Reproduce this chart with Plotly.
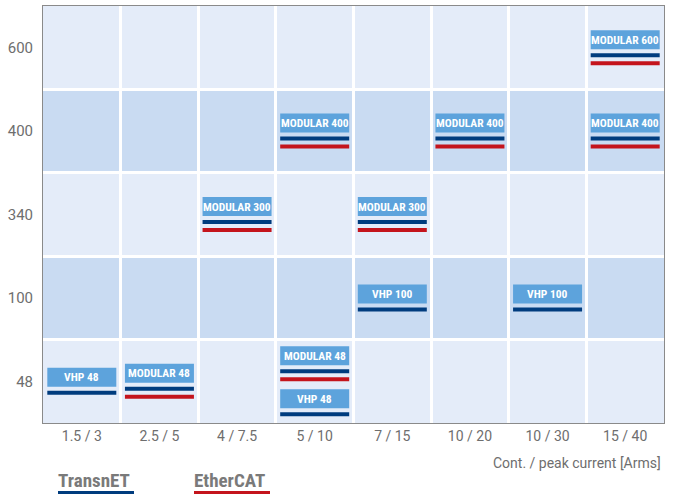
import plotly.graph_objects as go

# ---------------- data ----------------
currents = ["1.5 / 3", "2.5 / 5", "4 / 7.5", "5 / 10", "7 / 15", "10 / 20", "10 / 30", "15 / 40"]
voltages = ["48", "100", "340", "400", "600"]

product_names = ["VHP 48", "MODULAR 48", "MODULAR 48", "VHP 48", "MODULAR 300",
                 "VHP 100", "MODULAR 300", "MODULAR 400", "MODULAR 400", "VHP 100",
                 "MODULAR 400", "MODULAR 600"]
product_current = ["1.5 / 3", "2.5 / 5", "5 / 10", "5 / 10", "4 / 7.5",
                   "7 / 15", "7 / 15", "5 / 10", "10 / 20", "10 / 30",
                   "15 / 40", "15 / 40"]
product_voltage = ["48", "48", "48", "48", "340",
                   "100", "340", "400", "400", "100",
                   "400", "600"]
product_transnet = [True] * 12
product_ethercat = [False, True, True, False, True,
                    False, True, True, True, False,
                    True, True]

x_title = "Cont. / peak current [Arms]"
legend_names = ["TransnET", "EtherCAT"]

# ---------------- style ----------------
W, H = 676, 494
ML, MR, MT, MB = 43, 12, 6, 71
BG_LIGHT = "#E4ECF9"
BG_DARK = "#C9DBF2"
BOX = "#5DA3DC"
BLUE = "#003C7E"
RED = "#C4141C"
GRAY = "#6E6E6E"
COND = "Roboto Condensed, Roboto, sans-serif"

pw = W - ML - MR
ph = H - MT - MB
xu = len(currents) / pw    # data units per px (x)
yu = len(voltages) / ph    # data units per px (y)

BOX_W, BOX_H, GAP, LINE, ITEM_GAP = 69, 19, 4, 4, 8

fig = go.Figure()
shapes = []
annotations = []

# row bands
for i, v in enumerate(voltages):
    shapes.append(dict(type="rect", xref="paper", yref="y", x0=0, x1=1,
                       y0=i - 0.5, y1=i + 0.5, layer="below", line_width=0,
                       fillcolor=BG_DARK if i % 2 == 1 else BG_LIGHT))

# group products per cell (top to bottom in list order)
cells = {}
for k in range(len(product_names)):
    key = (product_current[k], product_voltage[k])
    cells.setdefault(key, []).append(k)

def item_height(k):
    h = BOX_H
    if product_transnet[k]:
        h += GAP + LINE
    if product_ethercat[k]:
        h += GAP + LINE
    return h

for (cur, vol), items in cells.items():
    cx = currents.index(cur)
    cy = voltages.index(vol)
    total = sum(item_height(k) for k in items) + ITEM_GAP * (len(items) - 1)
    top = cy + total / 2 * yu   # in data units
    for k in items:
        x0 = cx - BOX_W / 2 * xu
        x1 = cx + BOX_W / 2 * xu
        y_top = top
        y_bot = y_top - BOX_H * yu
        shapes.append(dict(type="rect", xref="x", yref="y", x0=x0, x1=x1,
                           y0=y_bot, y1=y_top, fillcolor=BOX, line_width=0, layer="above"))
        annotations.append(dict(xref="x", yref="y", x=cx, y=(y_top + y_bot) / 2,
                                text=product_names[k], showarrow=False,
                                xanchor="center", yanchor="middle",
                                font=dict(family=COND, size=11.5,
                                          color="white", weight="bold")))
        cur_y = y_bot
        if product_transnet[k]:
            cur_y -= GAP * yu
            shapes.append(dict(type="rect", xref="x", yref="y", x0=x0, x1=x1,
                               y0=cur_y - LINE * yu, y1=cur_y, fillcolor=BLUE,
                               line_width=0, layer="above"))
            cur_y -= LINE * yu
        if product_ethercat[k]:
            cur_y -= GAP * yu
            shapes.append(dict(type="rect", xref="x", yref="y", x0=x0, x1=x1,
                               y0=cur_y - LINE * yu, y1=cur_y, fillcolor=RED,
                               line_width=0, layer="above"))
            cur_y -= LINE * yu
        top = cur_y - ITEM_GAP * yu

# x-axis title
annotations.append(dict(xref="paper", yref="paper", x=1, y=0, xanchor="right", yanchor="middle",
                        yshift=-(463 - (H - MB)), xshift=-1, text=x_title, showarrow=False,
                        font=dict(family="Roboto", size=14, color=GRAY)))

# legend (text with underline)
leg_colors = [BLUE, RED]
leg_x = [58, 194]
for name, col, lx in zip(legend_names, leg_colors, leg_x):
    annotations.append(dict(xref="paper", yref="paper",
                            x=(lx - ML) / pw, y=(H - 480 - MB) / ph,
                            xanchor="left", yanchor="middle", text=name, showarrow=False,
                            xshift=-2,
                            font=dict(family=COND, size=19,
                                      color="#7A7A7A", weight="bold")))
    shapes.append(dict(type="rect", xref="paper", yref="paper",
                       x0=(lx - ML) / pw, x1=(lx + 76 - ML) / pw,
                       y0=(H - 494 - MB) / ph, y1=(H - 491 - MB) / ph,
                       fillcolor=col, line_width=0))

fig.add_trace(go.Scatter(x=[], y=[], showlegend=False, hoverinfo="skip"))

fig.update_layout(
    width=W, height=H,
    margin=dict(l=ML, r=MR, t=MT, b=MB, pad=0),
    paper_bgcolor="white", plot_bgcolor=BG_LIGHT,
    shapes=shapes, annotations=annotations, showlegend=False,
    xaxis=dict(range=[-0.5, len(currents) - 0.5], tickvals=list(range(len(currents))),
               ticktext=currents, showgrid=False, zeroline=False,
               showline=True, linecolor="#8A8A8A", linewidth=1, mirror=True,
               ticks="", tickfont=dict(family="Roboto", size=14, color=GRAY),
               minor=dict(tickvals=[i + 0.5 for i in range(len(currents) - 1)],
                          showgrid=True, gridcolor="white", gridwidth=3, ticks=""),
               fixedrange=True),
    yaxis=dict(range=[-0.5, len(voltages) - 0.5], tickvals=list(range(len(voltages))),
               ticktext=voltages, showgrid=False, zeroline=False,
               showline=True, linecolor="#8A8A8A", linewidth=1, mirror=True,
               ticks="", ticklabelstandoff=6,
               tickfont=dict(family="Roboto", size=15, color=GRAY),
               minor=dict(tickvals=[i + 0.5 for i in range(len(voltages) - 1)],
                          showgrid=True, gridcolor="white", gridwidth=3, ticks=""),
               fixedrange=True),
)

fig.write_html("out.html", config={"displayModeBar": False},
               post_script="document.body.style.margin='0';")
